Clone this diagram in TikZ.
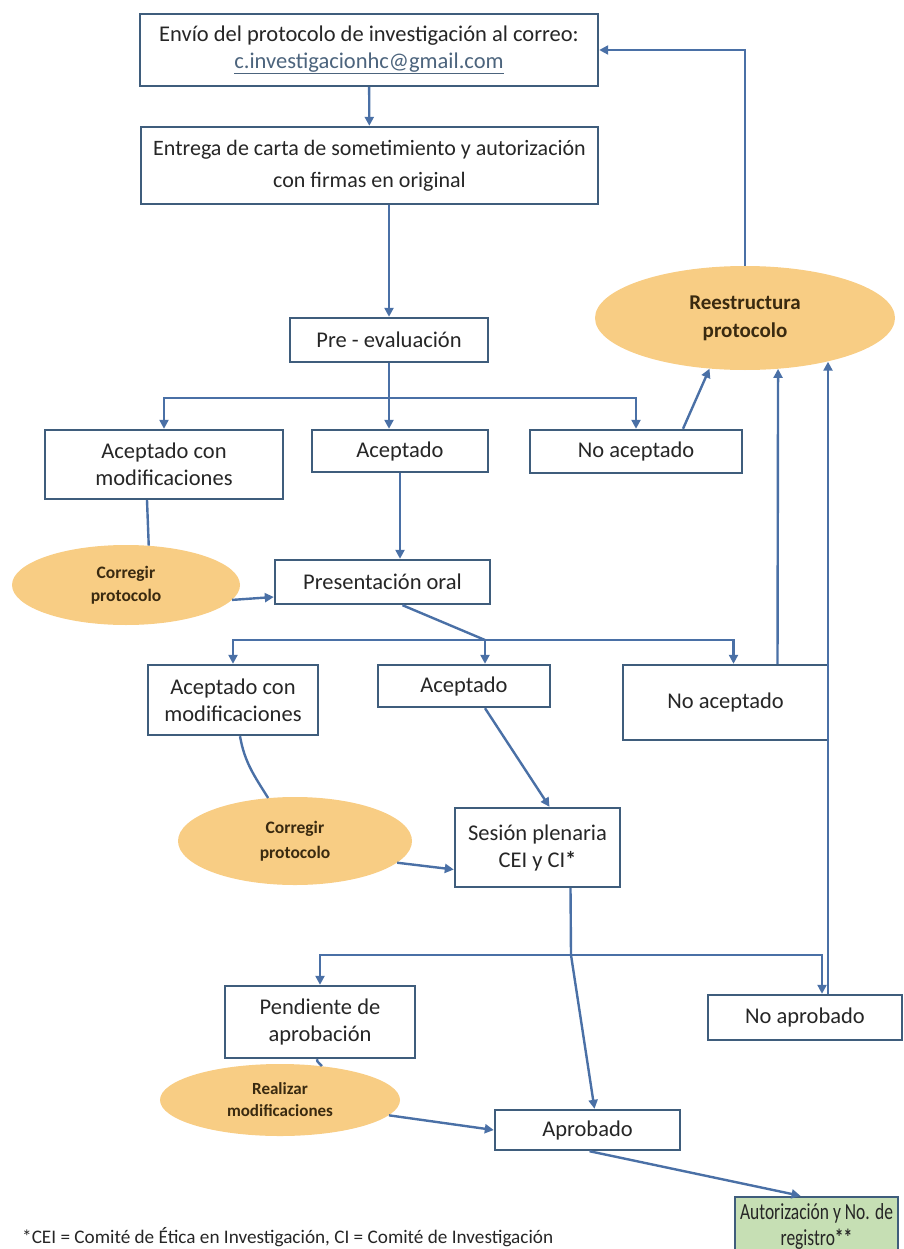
\documentclass[tikz,border=0pt]{standalone}
\usepackage{fontspec}
\setmainfont{Carlito}
\newfontfamily\angosta[FakeStretch=0.76]{Carlito}
\usetikzlibrary{shapes.geometric,arrows.meta}

\definecolor{linea}{HTML}{4A70A6}
\definecolor{borde}{HTML}{3F5D7C}
\definecolor{naranja}{HTML}{F8CD84}
\definecolor{verde}{HTML}{C6DFB4}
\definecolor{texto}{HTML}{262626}
\definecolor{cafe}{HTML}{3A2A10}

\tikzset{
	caja/.style={draw=borde, line width=2.4pt, fill=white, align=center, inner sep=0pt, text=texto, font=\fontsize{22.5}{27}\selectfont},
	ovalo/.style={ellipse, fill=naranja, align=center, inner sep=0pt, text=cafe, font=\bfseries},
	flecha/.style={draw=linea, line width=2.4pt, -{Triangle[length=9pt,width=9pt]}},
	tramo/.style={draw=linea, line width=2.4pt}
}

\begin{document}
\begin{tikzpicture}[x=1pt,y=-1pt]
	\useasboundingbox (0,0) rectangle (903,1249);
	% cajas
	\node[caja, minimum width=458pt, minimum height=72pt] (envio) at (369,50) {Envío del protocolo de investigación al correo:\\{\color{borde!80!gray}\underline{c.investigacionhc@gmail.com}}};
	\node[caja, minimum width=457pt, minimum height=77pt, font=\fontsize{22}{32}\selectfont] (entrega) at (369.5,165.5) {Entrega de carta de sometimiento y autorización\\con firmas en original};
	\node[caja, minimum width=198pt, minimum height=44pt] (preeval) at (389,340) {Pre - evaluación};
	\node[caja, minimum width=238pt, minimum height=69pt] (acmod1) at (164,464.5) {Aceptado con\\modificaciones};
	\node[caja, minimum width=176pt, minimum height=42pt] (acep1) at (400,451) {Aceptado};
	\node[caja, minimum width=212pt, minimum height=43pt] (noacep1) at (636,451.5) {No aceptado};
	\node[caja, minimum width=215pt, minimum height=44pt] (oral) at (382.5,582) {Presentación oral};
	\node[caja, minimum width=170pt, minimum height=70pt] (acmod2) at (233,700) {Aceptado con\\modificaciones};
	\node[caja, minimum width=172pt, minimum height=42pt] (acep2) at (464,686) {Aceptado};
	\node[caja, minimum width=205pt, minimum height=75pt] (noacep2) at (725.5,702.5) {No aceptado};
	\node[caja, minimum width=165pt, minimum height=79pt] (plenaria) at (537.5,847.5) {Sesión plenaria\\CEI y CI{\bfseries*}};
	\node[caja, minimum width=190pt, minimum height=72pt] (pendiente) at (320,1022) {Pendiente de\\aprobación};
	\node[caja, minimum width=194pt, minimum height=45pt] (noaprob) at (805,1017.5) {No aprobado};
	\node[caja, minimum width=185pt, minimum height=40pt] (aprob) at (587.5,1130) {Aprobado};
	\node[caja, fill=verde, minimum width=163pt, minimum height=58pt, font=\angosta\fontsize{23}{26}\selectfont] (registro) at (816.5,1226) {Autorización y No. de\\registro{\bfseries**}};
	% ovalos
	\node[ovalo, minimum width=300pt, minimum height=104pt, font=\fontsize{21}{28}\selectfont\bfseries] (reestructura) at (745,318) {Reestructura\\protocolo};
	\node[ovalo, minimum width=228pt, minimum height=80pt, font=\fontsize{17.5}{23}\selectfont\bfseries] (corregir1) at (126,585) {Corregir\\protocolo};
	\node[ovalo, minimum width=234pt, minimum height=88pt, font=\fontsize{17.5}{25}\selectfont\bfseries] (corregir2) at (295,841) {Corregir\\protocolo};
	\node[ovalo, minimum width=240pt, minimum height=72pt, font=\fontsize{17}{22}\selectfont\bfseries] (realizar) at (280,1100) {Realizar\\modificaciones};
	\node[anchor=west, inner sep=0pt, text=texto, font=\fontsize{19.2}{22}\selectfont] (nota) at (22,1237) {*CEI = Comité de Ética en Investigación, CI = Comité de Investigación};
	% ramas
	\coordinate (rama1) at (389,398);
	\coordinate (rama2) at (485,640);
	\coordinate (rama3) at (571,955);
	% conectores
	\draw[flecha] (envio) -- (entrega);
	\draw[flecha] (preeval.north |- entrega.south) -- (preeval.north);
	\draw[tramo] (preeval.south) -- (rama1);
	\draw[flecha] (rama1) -| (acmod1.north);
	\draw[flecha] (rama1) -- (rama1 |- acep1.north);
	\draw[flecha] (rama1) -| (noacep1.north);
	\draw[flecha] ([xshift=47pt]noacep1.north) -- (reestructura.235);
	\draw[flecha] (reestructura.north) |- (envio.east);
	\draw[tramo] ([xshift=-17pt]acmod1.south) -- (corregir1.60);
	\draw[flecha] (corregir1.-8) -- ([yshift=-15pt]oral.west);
	\draw[flecha] (acep1.south) -- (acep1.south |- oral.north);
	\draw[tramo] ([xshift=20pt]oral.south) -- (rama2);
	\draw[flecha] (rama2) -| (acmod2.north);
	\draw[flecha] (rama2) -- (rama2 |- acep2.north);
	\draw[flecha] (rama2) -| ([xshift=8pt]noacep2.north);
	\draw[flecha] ([xshift=52pt]noacep2.north) -- (reestructura.303);
	\draw[tramo] ([xshift=7pt]acmod2.south) to[out=-80,in=122] (corregir2.122);
	\draw[flecha] (corregir2.-12) -- ([yshift=-22pt]plenaria.west);
	\draw[flecha] ([xshift=21pt]acep2.south) -- ([xshift=12pt]plenaria.north);
	\draw[tramo] ([xshift=33pt]plenaria.south) -- (rama3);
	\draw[flecha] (rama3) -| (pendiente.north);
	\draw[flecha] (rama3) -| ([xshift=17pt]noaprob.north);
	\draw[flecha] (rama3) -- ([xshift=7pt]aprob.north);
	\draw[flecha] ([xshift=23pt]noaprob.north) -- ([xshift=23pt]noaprob.north |- reestructura.332);
	\draw[tramo] ([xshift=-3pt]pendiente.south) to[out=-95,in=120] (realizar.39);
	\draw[flecha] (realizar.-8) -- (aprob.west);
	\draw[flecha] ([xshift=2pt]aprob.south) -- ([xshift=-16pt]registro.north);
\end{tikzpicture}
\end{document}
